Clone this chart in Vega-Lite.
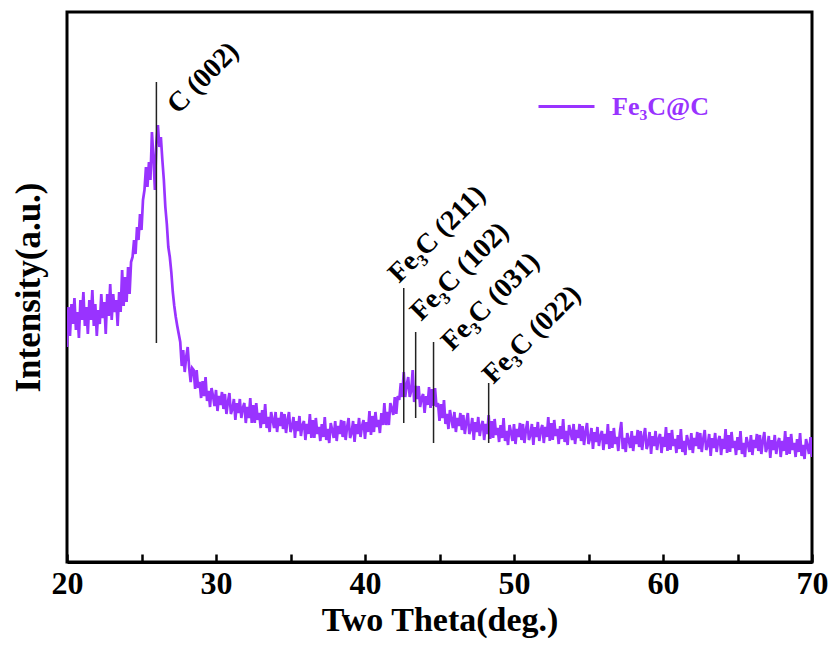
{
  "$schema": "https://vega.github.io/schema/vega-lite/v6.json",
  "width": 745,
  "height": 550,
  "autosize": {"type": "none"},
  "padding": {"left": 67, "top": 12, "right": 21, "bottom": 83},
  "background": "white",
  "config": {"view": {"stroke": "black", "strokeWidth": 3}, "font": "Liberation Serif"},
  "datasets": {
    "xrd": [
{"theta":20.0,"intensity":215},{"theta":20.1,"intensity":255},{"theta":20.2,"intensity":226},{"theta":20.3,"intensity":258},{"theta":20.4,"intensity":238},{"theta":20.5,"intensity":264},{"theta":20.6,"intensity":232},{"theta":20.7,"intensity":250},{"theta":20.8,"intensity":224},{"theta":20.9,"intensity":262},
{"theta":21.0,"intensity":242},{"theta":21.1,"intensity":270},{"theta":21.2,"intensity":236},{"theta":21.3,"intensity":255},{"theta":21.4,"intensity":228},{"theta":21.5,"intensity":262},{"theta":21.6,"intensity":242},{"theta":21.7,"intensity":272},{"theta":21.8,"intensity":236},{"theta":21.9,"intensity":258},
{"theta":22.0,"intensity":226},{"theta":22.1,"intensity":252},{"theta":22.2,"intensity":238},{"theta":22.3,"intensity":268},{"theta":22.4,"intensity":244},{"theta":22.5,"intensity":260},{"theta":22.6,"intensity":228},{"theta":22.7,"intensity":268},{"theta":22.8,"intensity":246},{"theta":22.9,"intensity":278},
{"theta":23.0,"intensity":242},{"theta":23.1,"intensity":268},{"theta":23.2,"intensity":250},{"theta":23.3,"intensity":262},{"theta":23.4,"intensity":236},{"theta":23.5,"intensity":270},{"theta":23.6,"intensity":250},{"theta":23.7,"intensity":292},{"theta":23.8,"intensity":256},{"theta":23.9,"intensity":285},
{"theta":24.0,"intensity":260},{"theta":24.1,"intensity":295},{"theta":24.2,"intensity":268},{"theta":24.3,"intensity":300},{"theta":24.4,"intensity":305},{"theta":24.5,"intensity":322},{"theta":24.6,"intensity":308},{"theta":24.7,"intensity":335},{"theta":24.8,"intensity":322},{"theta":24.9,"intensity":348},
{"theta":25.0,"intensity":332},{"theta":25.1,"intensity":362},{"theta":25.2,"intensity":372},{"theta":25.3,"intensity":395},{"theta":25.4,"intensity":375},{"theta":25.5,"intensity":400},{"theta":25.6,"intensity":382},{"theta":25.7,"intensity":430},{"theta":25.8,"intensity":405},{"theta":25.9,"intensity":372},
{"theta":26.0,"intensity":420},{"theta":26.1,"intensity":437},{"theta":26.2,"intensity":415},{"theta":26.3,"intensity":425},{"theta":26.4,"intensity":402},{"theta":26.5,"intensity":382},{"theta":26.6,"intensity":355},{"theta":26.7,"intensity":338},{"theta":26.8,"intensity":315},{"theta":26.9,"intensity":305},
{"theta":27.0,"intensity":290},{"theta":27.1,"intensity":270},{"theta":27.2,"intensity":256},{"theta":27.3,"intensity":245},{"theta":27.4,"intensity":236},{"theta":27.5,"intensity":228},{"theta":27.6,"intensity":220},{"theta":27.7,"intensity":196},{"theta":27.8,"intensity":212},{"theta":27.9,"intensity":190},
{"theta":28.0,"intensity":205},{"theta":28.1,"intensity":215},{"theta":28.2,"intensity":194},{"theta":28.3,"intensity":180},{"theta":28.4,"intensity":194},{"theta":28.5,"intensity":192},{"theta":28.6,"intensity":173},{"theta":28.7,"intensity":192},{"theta":28.8,"intensity":174},{"theta":28.9,"intensity":180},
{"theta":29.0,"intensity":164},{"theta":29.1,"intensity":181},{"theta":29.2,"intensity":166},{"theta":29.3,"intensity":185},{"theta":29.4,"intensity":161},{"theta":29.5,"intensity":171},{"theta":29.6,"intensity":155},{"theta":29.7,"intensity":174},{"theta":29.8,"intensity":166},{"theta":29.9,"intensity":156},
{"theta":30.0,"intensity":172},{"theta":30.1,"intensity":151},{"theta":30.2,"intensity":166},{"theta":30.3,"intensity":157},{"theta":30.4,"intensity":170},{"theta":30.5,"intensity":153},{"theta":30.6,"intensity":168},{"theta":30.7,"intensity":148},{"theta":30.8,"intensity":160},{"theta":30.9,"intensity":169},
{"theta":31.0,"intensity":148},{"theta":31.1,"intensity":153},{"theta":31.2,"intensity":163},{"theta":31.3,"intensity":142},{"theta":31.4,"intensity":159},{"theta":31.5,"intensity":149},{"theta":31.6,"intensity":163},{"theta":31.7,"intensity":144},{"theta":31.8,"intensity":154},{"theta":31.9,"intensity":159},
{"theta":32.0,"intensity":139},{"theta":32.1,"intensity":155},{"theta":32.2,"intensity":144},{"theta":32.3,"intensity":164},{"theta":32.4,"intensity":139},{"theta":32.5,"intensity":157},{"theta":32.6,"intensity":139},{"theta":32.7,"intensity":159},{"theta":32.8,"intensity":142},{"theta":32.9,"intensity":149},
{"theta":33.0,"intensity":134},{"theta":33.1,"intensity":152},{"theta":33.2,"intensity":138},{"theta":33.3,"intensity":158},{"theta":33.4,"intensity":134},{"theta":33.5,"intensity":145},{"theta":33.6,"intensity":130},{"theta":33.7,"intensity":150},{"theta":33.8,"intensity":142},{"theta":33.9,"intensity":134},
{"theta":34.0,"intensity":150},{"theta":34.1,"intensity":130},{"theta":34.2,"intensity":144},{"theta":34.3,"intensity":136},{"theta":34.4,"intensity":150},{"theta":34.5,"intensity":133},{"theta":34.6,"intensity":148},{"theta":34.7,"intensity":129},{"theta":34.8,"intensity":142},{"theta":34.9,"intensity":150},
{"theta":35.0,"intensity":130},{"theta":35.1,"intensity":135},{"theta":35.2,"intensity":145},{"theta":35.3,"intensity":124},{"theta":35.4,"intensity":141},{"theta":35.5,"intensity":131},{"theta":35.6,"intensity":146},{"theta":35.7,"intensity":126},{"theta":35.8,"intensity":137},{"theta":35.9,"intensity":141},
{"theta":36.0,"intensity":122},{"theta":36.1,"intensity":138},{"theta":36.2,"intensity":128},{"theta":36.3,"intensity":148},{"theta":36.4,"intensity":124},{"theta":36.5,"intensity":142},{"theta":36.6,"intensity":124},{"theta":36.7,"intensity":144},{"theta":36.8,"intensity":128},{"theta":36.9,"intensity":135},
{"theta":37.0,"intensity":121},{"theta":37.1,"intensity":138},{"theta":37.2,"intensity":125},{"theta":37.3,"intensity":145},{"theta":37.4,"intensity":122},{"theta":37.5,"intensity":133},{"theta":37.6,"intensity":119},{"theta":37.7,"intensity":139},{"theta":37.8,"intensity":132},{"theta":37.9,"intensity":124},
{"theta":38.0,"intensity":141},{"theta":38.1,"intensity":121},{"theta":38.2,"intensity":136},{"theta":38.3,"intensity":128},{"theta":38.4,"intensity":142},{"theta":38.5,"intensity":125},{"theta":38.6,"intensity":141},{"theta":38.7,"intensity":122},{"theta":38.8,"intensity":135},{"theta":38.9,"intensity":144},
{"theta":39.0,"intensity":124},{"theta":39.1,"intensity":129},{"theta":39.2,"intensity":141},{"theta":39.3,"intensity":120},{"theta":39.4,"intensity":138},{"theta":39.5,"intensity":128},{"theta":39.6,"intensity":144},{"theta":39.7,"intensity":125},{"theta":39.8,"intensity":136},{"theta":39.9,"intensity":142},
{"theta":40.0,"intensity":123},{"theta":40.1,"intensity":140},{"theta":40.2,"intensity":130},{"theta":40.3,"intensity":151},{"theta":40.4,"intensity":127},{"theta":40.5,"intensity":146},{"theta":40.6,"intensity":130},{"theta":40.7,"intensity":150},{"theta":40.8,"intensity":135},{"theta":40.9,"intensity":142},
{"theta":41.0,"intensity":129},{"theta":41.1,"intensity":149},{"theta":41.2,"intensity":137},{"theta":41.3,"intensity":159},{"theta":41.4,"intensity":137},{"theta":41.5,"intensity":150},{"theta":41.6,"intensity":137},{"theta":41.7,"intensity":159},{"theta":41.8,"intensity":153},{"theta":41.9,"intensity":147},
{"theta":42.0,"intensity":165},{"theta":42.1,"intensity":148},{"theta":42.2,"intensity":166},{"theta":42.3,"intensity":162},{"theta":42.4,"intensity":179},{"theta":42.5,"intensity":165},{"theta":42.6,"intensity":190},{"theta":42.7,"intensity":165},{"theta":42.8,"intensity":177},{"theta":42.9,"intensity":185},
{"theta":43.0,"intensity":165},{"theta":43.1,"intensity":171},{"theta":43.2,"intensity":192},{"theta":43.3,"intensity":160},{"theta":43.4,"intensity":176},{"theta":43.5,"intensity":163},{"theta":43.6,"intensity":176},{"theta":43.7,"intensity":155},{"theta":43.8,"intensity":164},{"theta":43.9,"intensity":168},
{"theta":44.0,"intensity":149},{"theta":44.1,"intensity":166},{"theta":44.2,"intensity":157},{"theta":44.3,"intensity":175},{"theta":44.4,"intensity":154},{"theta":44.5,"intensity":173},{"theta":44.6,"intensity":156},{"theta":44.7,"intensity":174},{"theta":44.8,"intensity":155},{"theta":44.9,"intensity":159},
{"theta":45.0,"intensity":141},{"theta":45.1,"intensity":158},{"theta":45.2,"intensity":144},{"theta":45.3,"intensity":162},{"theta":45.4,"intensity":138},{"theta":45.5,"intensity":148},{"theta":45.6,"intensity":133},{"theta":45.7,"intensity":152},{"theta":45.8,"intensity":143},{"theta":45.9,"intensity":134},
{"theta":46.0,"intensity":150},{"theta":46.1,"intensity":130},{"theta":46.2,"intensity":144},{"theta":46.3,"intensity":136},{"theta":46.4,"intensity":149},{"theta":46.5,"intensity":132},{"theta":46.6,"intensity":147},{"theta":46.7,"intensity":128},{"theta":46.8,"intensity":140},{"theta":46.9,"intensity":149},
{"theta":47.0,"intensity":128},{"theta":47.1,"intensity":133},{"theta":47.2,"intensity":144},{"theta":47.3,"intensity":122},{"theta":47.4,"intensity":140},{"theta":47.5,"intensity":130},{"theta":47.6,"intensity":145},{"theta":47.7,"intensity":126},{"theta":47.8,"intensity":136},{"theta":47.9,"intensity":141},
{"theta":48.0,"intensity":122},{"theta":48.1,"intensity":138},{"theta":48.2,"intensity":128},{"theta":48.3,"intensity":147},{"theta":48.4,"intensity":123},{"theta":48.5,"intensity":141},{"theta":48.6,"intensity":124},{"theta":48.7,"intensity":143},{"theta":48.8,"intensity":127},{"theta":48.9,"intensity":134},
{"theta":49.0,"intensity":120},{"theta":49.1,"intensity":137},{"theta":49.2,"intensity":124},{"theta":49.3,"intensity":144},{"theta":49.4,"intensity":121},{"theta":49.5,"intensity":131},{"theta":49.6,"intensity":117},{"theta":49.7,"intensity":137},{"theta":49.8,"intensity":130},{"theta":49.9,"intensity":121},
{"theta":50.0,"intensity":138},{"theta":50.1,"intensity":118},{"theta":50.2,"intensity":133},{"theta":50.3,"intensity":125},{"theta":50.4,"intensity":139},{"theta":50.5,"intensity":122},{"theta":50.6,"intensity":138},{"theta":50.7,"intensity":119},{"theta":50.8,"intensity":132},{"theta":50.9,"intensity":141},
{"theta":51.0,"intensity":122},{"theta":51.1,"intensity":127},{"theta":51.2,"intensity":138},{"theta":51.3,"intensity":117},{"theta":51.4,"intensity":135},{"theta":51.5,"intensity":125},{"theta":51.6,"intensity":140},{"theta":51.7,"intensity":121},{"theta":51.8,"intensity":132},{"theta":51.9,"intensity":137},
{"theta":52.0,"intensity":119},{"theta":52.1,"intensity":135},{"theta":52.2,"intensity":125},{"theta":52.3,"intensity":145},{"theta":52.4,"intensity":121},{"theta":52.5,"intensity":139},{"theta":52.6,"intensity":122},{"theta":52.7,"intensity":142},{"theta":52.8,"intensity":126},{"theta":52.9,"intensity":133},
{"theta":53.0,"intensity":118},{"theta":53.1,"intensity":136},{"theta":53.2,"intensity":123},{"theta":53.3,"intensity":143},{"theta":53.4,"intensity":120},{"theta":53.5,"intensity":131},{"theta":53.6,"intensity":117},{"theta":53.7,"intensity":137},{"theta":53.8,"intensity":130},{"theta":53.9,"intensity":122},
{"theta":54.0,"intensity":138},{"theta":54.1,"intensity":118},{"theta":54.2,"intensity":132},{"theta":54.3,"intensity":124},{"theta":54.4,"intensity":138},{"theta":54.5,"intensity":121},{"theta":54.6,"intensity":136},{"theta":54.7,"intensity":117},{"theta":54.8,"intensity":130},{"theta":54.9,"intensity":139},
{"theta":55.0,"intensity":118},{"theta":55.1,"intensity":123},{"theta":55.2,"intensity":134},{"theta":55.3,"intensity":113},{"theta":55.4,"intensity":130},{"theta":55.5,"intensity":120},{"theta":55.6,"intensity":135},{"theta":55.7,"intensity":116},{"theta":55.8,"intensity":126},{"theta":55.9,"intensity":131},
{"theta":56.0,"intensity":112},{"theta":56.1,"intensity":128},{"theta":56.2,"intensity":118},{"theta":56.3,"intensity":138},{"theta":56.4,"intensity":113},{"theta":56.5,"intensity":131},{"theta":56.6,"intensity":114},{"theta":56.7,"intensity":134},{"theta":56.8,"intensity":118},{"theta":56.9,"intensity":125},
{"theta":57.0,"intensity":111},{"theta":57.1,"intensity":129},{"theta":57.2,"intensity":140},{"theta":57.3,"intensity":113},{"theta":57.4,"intensity":124},{"theta":57.5,"intensity":110},{"theta":57.6,"intensity":129},{"theta":57.7,"intensity":122},{"theta":57.8,"intensity":114},{"theta":57.9,"intensity":131},
{"theta":58.0,"intensity":111},{"theta":58.1,"intensity":126},{"theta":58.2,"intensity":118},{"theta":58.3,"intensity":132},{"theta":58.4,"intensity":115},{"theta":58.5,"intensity":131},{"theta":58.6,"intensity":112},{"theta":58.7,"intensity":125},{"theta":58.8,"intensity":134},{"theta":58.9,"intensity":113},
{"theta":59.0,"intensity":118},{"theta":59.1,"intensity":130},{"theta":59.2,"intensity":108},{"theta":59.3,"intensity":126},{"theta":59.4,"intensity":116},{"theta":59.5,"intensity":131},{"theta":59.6,"intensity":112},{"theta":59.7,"intensity":123},{"theta":59.8,"intensity":128},{"theta":59.9,"intensity":109},
{"theta":60.0,"intensity":125},{"theta":60.1,"intensity":115},{"theta":60.2,"intensity":135},{"theta":60.3,"intensity":111},{"theta":60.4,"intensity":129},{"theta":60.5,"intensity":112},{"theta":60.6,"intensity":132},{"theta":60.7,"intensity":116},{"theta":60.8,"intensity":123},{"theta":60.9,"intensity":109},
{"theta":61.0,"intensity":127},{"theta":61.1,"intensity":113},{"theta":61.2,"intensity":133},{"theta":61.3,"intensity":110},{"theta":61.4,"intensity":121},{"theta":61.5,"intensity":107},{"theta":61.6,"intensity":127},{"theta":61.7,"intensity":120},{"theta":61.8,"intensity":112},{"theta":61.9,"intensity":129},
{"theta":62.0,"intensity":109},{"theta":62.1,"intensity":124},{"theta":62.2,"intensity":116},{"theta":62.3,"intensity":130},{"theta":62.4,"intensity":113},{"theta":62.5,"intensity":129},{"theta":62.6,"intensity":110},{"theta":62.7,"intensity":123},{"theta":62.8,"intensity":132},{"theta":62.9,"intensity":112},
{"theta":63.0,"intensity":117},{"theta":63.1,"intensity":128},{"theta":63.2,"intensity":106},{"theta":63.3,"intensity":124},{"theta":63.4,"intensity":114},{"theta":63.5,"intensity":129},{"theta":63.6,"intensity":110},{"theta":63.7,"intensity":121},{"theta":63.8,"intensity":126},{"theta":63.9,"intensity":107},
{"theta":64.0,"intensity":123},{"theta":64.1,"intensity":113},{"theta":64.2,"intensity":133},{"theta":64.3,"intensity":109},{"theta":64.4,"intensity":127},{"theta":64.5,"intensity":110},{"theta":64.6,"intensity":130},{"theta":64.7,"intensity":114},{"theta":64.8,"intensity":121},{"theta":64.9,"intensity":107},
{"theta":65.0,"intensity":125},{"theta":65.1,"intensity":112},{"theta":65.2,"intensity":131},{"theta":65.3,"intensity":108},{"theta":65.4,"intensity":119},{"theta":65.5,"intensity":105},{"theta":65.6,"intensity":125},{"theta":65.7,"intensity":118},{"theta":65.8,"intensity":110},{"theta":65.9,"intensity":127},
{"theta":66.0,"intensity":107},{"theta":66.1,"intensity":122},{"theta":66.2,"intensity":114},{"theta":66.3,"intensity":128},{"theta":66.4,"intensity":111},{"theta":66.5,"intensity":127},{"theta":66.6,"intensity":108},{"theta":66.7,"intensity":121},{"theta":66.8,"intensity":130},{"theta":66.9,"intensity":110},
{"theta":67.0,"intensity":115},{"theta":67.1,"intensity":126},{"theta":67.2,"intensity":104},{"theta":67.3,"intensity":122},{"theta":67.4,"intensity":112},{"theta":67.5,"intensity":127},{"theta":67.6,"intensity":108},{"theta":67.7,"intensity":119},{"theta":67.8,"intensity":124},{"theta":67.9,"intensity":105},
{"theta":68.0,"intensity":121},{"theta":68.1,"intensity":111},{"theta":68.2,"intensity":131},{"theta":68.3,"intensity":107},{"theta":68.4,"intensity":125},{"theta":68.5,"intensity":108},{"theta":68.6,"intensity":128},{"theta":68.7,"intensity":112},{"theta":68.8,"intensity":119},{"theta":68.9,"intensity":105},
{"theta":69.0,"intensity":123},{"theta":69.1,"intensity":110},{"theta":69.2,"intensity":129},{"theta":69.3,"intensity":106},{"theta":69.4,"intensity":117},{"theta":69.5,"intensity":103},{"theta":69.6,"intensity":123},{"theta":69.7,"intensity":116},{"theta":69.8,"intensity":108},{"theta":69.9,"intensity":125},
{"theta":70.0,"intensity":105}
    ],
    "refs": [
      {"theta": 26.0, "top": 480, "bottom": 219, "lx": 27.45, "ly": 447, "label": "C (002)"},
      {"theta": 42.6, "top": 274, "bottom": 139, "lx": 42.28, "ly": 278, "label": "Fe₃C (211)"},
      {"theta": 43.4, "top": 230, "bottom": 144, "lx": 43.76, "ly": 240, "label": "Fe₃C (102)"},
      {"theta": 44.6, "top": 220, "bottom": 119, "lx": 45.84, "ly": 210, "label": "Fe₃C (031)"},
      {"theta": 48.3, "top": 179, "bottom": 119, "lx": 48.6, "ly": 177, "label": "Fe₃C (022)"}
    ]
  },
  "layer": [
    {
      "data": {"name": "xrd"},
      "mark": {"type": "line", "strokeWidth": 2.7, "clip": true},
      "encoding": {
        "x": {
          "field": "theta", "type": "quantitative",
          "scale": {"domain": [20, 70], "nice": false, "zero": false},
          "axis": {
            "title": "Two Theta(deg.)",
            "values": [20, 25, 30, 35, 40, 45, 50, 55, 60, 65, 70],
            "labelExpr": "datum.value % 10 === 0 ? datum.label : ''",
            "grid": false,
            "domainColor": "black", "domainWidth": 3,
            "tickColor": "black", "tickWidth": 2.5,
            "tickSize": -8,
            "encode": {"ticks": {"update": {"y2": {"signal": "datum.value % 10 === 0 ? -9 : -5"}}}},
            "labelFont": "Liberation Serif", "labelFontWeight": "bold", "labelFontSize": 32, "labelColor": "black",
            "labelPadding": 14, "labelFlush": false, "labelOverlap": false,
            "titleFont": "Liberation Serif", "titleFontWeight": "bold", "titleFontSize": 34, "titleColor": "black",
            "titlePadding": 4
          }
        },
        "y": {
          "field": "intensity", "type": "quantitative",
          "scale": {"domain": [0, 550], "nice": false, "zero": false},
          "axis": {
            "title": "Intensity(a.u.)",
            "labels": false, "ticks": false, "domain": false, "grid": false,
            "titleFont": "Liberation Serif", "titleFontWeight": "bold", "titleFontSize": 35, "titleColor": "black",
            "titlePadding": 21
          }
        },
        "color": {
          "datum": "Fe₃C@C", "type": "nominal",
          "scale": {"range": ["#9933ff"]},
          "legend": {
            "orient": "none", "legendX": 470, "legendY": 65, "title": null,
            "symbolType": "stroke", "symbolSize": 3136, "symbolStrokeWidth": 3,
            "labelFont": "Liberation Serif", "labelFontWeight": "bold", "labelFontSize": 26,
            "labelColor": "#9933ff", "labelOffset": 16, "padding": 0
          }
        }
      }
    },
    {
      "data": {"name": "refs"},
      "mark": {"type": "rule", "color": "#222222", "strokeWidth": 1.5},
      "encoding": {
        "x": {"field": "theta", "type": "quantitative"},
        "y": {"field": "top", "type": "quantitative"},
        "y2": {"field": "bottom"}
      }
    },
    {
      "data": {"name": "refs"},
      "mark": {"type": "text", "angle": -45, "align": "left", "baseline": "alphabetic", "font": "Liberation Serif", "fontWeight": "bold", "fontSize": 28, "color": "black"},
      "encoding": {
        "x": {"field": "lx", "type": "quantitative"},
        "y": {"field": "ly", "type": "quantitative"},
        "text": {"field": "label"}
      }
    }
  ]
}
